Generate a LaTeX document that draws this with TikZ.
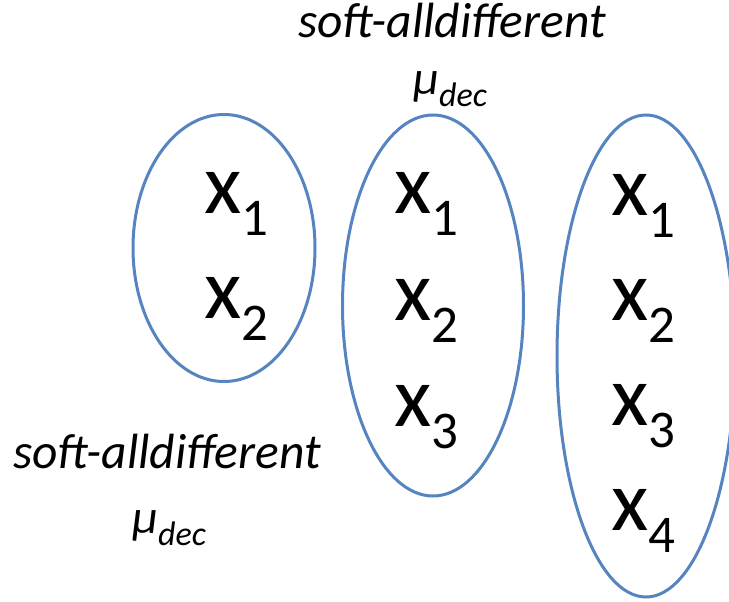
\documentclass[tikz,border=0pt]{standalone}
\usepackage{fontspec}
\setmainfont{Carlito}
\usepackage{tikz}
\usetikzlibrary{shapes.geometric}
\definecolor{ovalblue}{HTML}{5584C0}
\tikzset{
  oval/.style={draw=ovalblue, ellipse, line width=3pt, inner sep=0pt},
  var/.style={anchor=base west, inner sep=0pt, font=\fontsize{86}{86}\selectfont},
  ctname/.style={anchor=base, inner sep=0pt, font=\fontsize{49.5}{50}\selectfont\itshape},
  mu/.style={anchor=base west, inner sep=0pt, font=\fontsize{48}{48}\selectfont\itshape}
}
\newcommand{\xsub}[1]{x\raisebox{-22pt}{\fontsize{53}{53}\selectfont #1}}
\newcommand{\mudec}{μ\raisebox{-12pt}{\fontsize{34}{34}\selectfont dec}}

\begin{document}
\begin{tikzpicture}[x=1pt, y=-1pt]
  \useasboundingbox (0,0) rectangle (729,602);

  % the three scopes
  \node[oval, minimum width=182pt, minimum height=267pt] (e1) at (224,248) {};
  \node[oval, minimum width=181pt, minimum height=381pt] (e2) at (433,305.5) {};
  \node[oval, minimum width=178pt, minimum height=482pt] (e3) at (646,356) {};

  \foreach \n/\y in {1/213,2/318}
    \node[var] (a\n) at (204,\y) {\xsub{\n}};
  \foreach \n/\y in {1/213,2/320,3/426}
    \node[var] (b\n) at (394,\y) {\xsub{\n}};
  \foreach \n/\y in {1/215,2/320,3/425,4/530}
    \node[var] (c\n) at (611,\y) {\xsub{\n}};

  \node[ctname] (softtop) at (452,38) {soft-alldifferent};
  \node[mu] (mutop) at (413,95) {\mudec};
  \node[ctname] (softleft) at (167,468) {soft-alldifferent};
  \node[mu] (muleft) at (132,533) {\mudec};
\end{tikzpicture}
\end{document}
